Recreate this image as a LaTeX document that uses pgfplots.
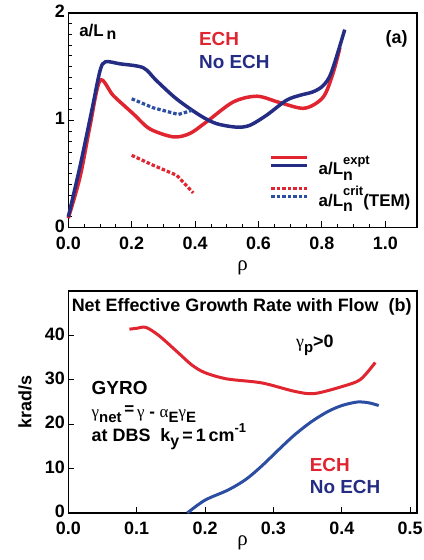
\documentclass[border=0pt]{standalone}
\usepackage{fontspec}
\setmainfont{Liberation Sans}
\newfontfamily\greekfont{Liberation Serif}
\usepackage{pgfplots}
\pgfplotsset{compat=1.18}

\definecolor{echred}{RGB}{224,36,48}
\definecolor{navy}{RGB}{36,44,132}
\definecolor{midblue}{RGB}{44,78,162}

\newcommand\fs[1]{\fontsize{#1}{#1}\selectfont\bfseries}

\tikzset{lbl/.style={inner sep=0pt, anchor=base west}}
\pgfplotsset{
  panel/.style={
    scale only axis,
    width=348.7bp,
    axis line style={line width=1.2bp},
    tick style={line width=0.9bp, black},
    tick align=inside,
    xtick pos=left, ytick pos=left,
    major tick length=6bp, minor tick length=4bp,
    ticklabel style={font=\fs{18}},
    xticklabel style={yshift=-5.5bp},
    yticklabel style={yshift=1.5bp},
    /pgf/number format/assume math mode=true,
    clip=false,
  },
}

\begin{document}
\begin{tikzpicture}
\path[use as bounding box] (-68.3bp,-332.5bp) rectangle (355.7bp,227.5bp);

% ---------------- (a) density gradient ----------------
\begin{axis}[panel,
  at={(0,0)}, anchor=south west,
  height=214.5bp,
  xmin=0, xmax=1.1, ymin=0, ymax=2,
  xtick={0,0.2,...,1.0}, minor x tick num=3,
  ytick={0,1,2}, minor y tick num=9,
  xticklabel style={/pgf/number format/.cd, fixed, fixed zerofill, precision=1},
  yticklabel style={/pgf/number format/.cd, fixed, precision=0},
  xlabel={\greekfont\fontsize{21}{21}\selectfont ρ},
  xlabel style={at={(axis description cs:0.5,-0.19)}, anchor=center},
  legend style={draw=none, fill=none, at={(axis cs:0.634,0.69)}, anchor=north west,
    font=\fs{17}, row sep=6bp, inner sep=0pt, column sep=8bp},
  legend cell align=left,
]
% experimental a/L_n
\addplot[echred, line width=3.5bp, smooth, tension=0.5, forget plot] coordinates {
  (0,0.087) (0.037,0.47) (0.068,0.94) (0.1,1.37) (0.142,1.23) (0.205,1.06)
  (0.257,0.92) (0.331,0.845) (0.383,0.876) (0.436,0.985) (0.52,1.17)
  (0.595,1.224) (0.667,1.165) (0.745,1.112) (0.804,1.215) (0.836,1.447) (0.857,1.68)
};
\addplot[navy, line width=3.5bp, smooth, tension=0.5, forget plot] coordinates {
  (0,0.1) (0.037,0.57) (0.074,1.09) (0.1,1.46) (0.117,1.545) (0.163,1.526)
  (0.236,1.49) (0.278,1.37) (0.341,1.2) (0.415,1.046) (0.467,0.969)
  (0.53,0.936) (0.572,0.952) (0.625,1.046) (0.688,1.186) (0.73,1.232)
  (0.772,1.265) (0.804,1.323) (0.83,1.447) (0.872,1.845)
};
% critical gradient (TEM)
\addplot[echred, line width=3.2bp, dash pattern=on 3.5bp off 2bp, forget plot] coordinates {
  (0.2,0.673) (0.268,0.58) (0.342,0.487) (0.394,0.323)
};
\addplot[midblue, line width=3.2bp, dash pattern=on 3.5bp off 2bp, forget plot] coordinates {
  (0.2,1.2) (0.268,1.116) (0.347,1.054) (0.389,1.091)
};
\addlegendimage{legend image code/.code={
  \draw[echred, line width=3.2bp] (0bp,8.5bp) -- (36bp,8.5bp);
  \draw[navy, line width=3.2bp] (0bp,0.5bp) -- (36bp,0.5bp);}}
\addlegendentry{a/L\makebox[0pt][l]{\raisebox{1.2ex}{\fs{13}expt}}\raisebox{-0.6ex}{\fs{16}n}}
\addlegendimage{legend image code/.code={
  \draw[echred, line width=3bp, dash pattern=on 3.5bp off 2bp] (0bp,8.5bp) -- (36bp,8.5bp);
  \draw[midblue, line width=3bp, dash pattern=on 3.5bp off 2bp] (0bp,0.5bp) -- (36bp,0.5bp);}}
\addlegendentry{a/L\makebox[0pt][l]{\raisebox{-0.6ex}{\fs{16}n}}\raisebox{1.2ex}{\fs{13}crit}(TEM)}

\node[lbl, font=\fs{17}] at (axis cs:0.034,1.78) {a/L\,\raisebox{-0.35ex}{\fs{16}n}};
\node[lbl, font=\fs{19}, text=echred] at (axis cs:0.412,1.695) {ECH};
\node[lbl, font=\fs{19}, text=navy] at (axis cs:0.412,1.48) {No ECH};
\node[lbl, anchor=base east, font=\fs{18}] at (axis cs:1.071,1.72) {(a)};
\end{axis}

% ---------------- (b) net growth rate ----------------
\begin{axis}[panel,
  at={(0,-63.5bp)}, anchor=north west,
  height=222bp,
  xmin=0, xmax=0.51, ymin=0, ymax=50,
  xtick={0,0.1,...,0.5},
  ytick={0,10,...,40},
  xticklabel style={/pgf/number format/.cd, fixed, fixed zerofill, precision=1},
  yticklabel style={/pgf/number format/.cd, fixed, precision=0},
  xlabel={\greekfont\fontsize{21}{21}\selectfont ρ},
  xlabel style={at={(axis description cs:0.5,-0.135)}, anchor=center},
  ylabel={krad/s},
  ylabel style={font=\fs{18}, at={(axis description cs:-0.124,0.5)}, anchor=center},
]
\addplot[echred, line width=3bp, smooth, tension=0.5] coordinates {
  (0.0894,41.4) (0.1,41.6) (0.1136,41.8) (0.133,39.9) (0.16,36.2) (0.181,33.3)
  (0.2,31.6) (0.232,30.2) (0.283,29.3) (0.331,27.4) (0.36,26.9) (0.403,28.6)
  (0.4275,30.1) (0.449,33.9)
};
\addplot[midblue, line width=3bp, smooth, tension=0.5] coordinates {
  (0.174,0) (0.2,2.9) (0.234,5.2) (0.26,7.6) (0.283,10.6) (0.31,14.6)
  (0.331,17.6) (0.355,20.5) (0.379,22.8) (0.4,24.2) (0.423,25.0) (0.44,24.8) (0.454,24.2)
};

\node[inner sep=0pt, anchor=base, font=\fs{18}] at (axis cs:0.2535,45.4) {Net Effective Growth Rate with Flow\ \ (b)};
\node[lbl, font=\fs{18}] at (axis cs:0.333,37.3)
  {{\greekfont\mdseries γ}\raisebox{-0.5ex}{\fs{15}p}>0};
\node[lbl, font=\fs{19}] at (axis cs:0.034,26.7) {GYRO};
\node[lbl, font=\fs{17}] at (axis cs:0.034,21.5)
  {{\greekfont\mdseries γ}\raisebox{-0.5ex}{\fs{15}net}\,\raisebox{0.3ex}{=}\,{\greekfont\mdseries γ} - {\greekfont\mdseries α}\raisebox{-0.6ex}{\fs{15}E}{\greekfont\mdseries γ}\raisebox{-0.6ex}{\fs{15}E}};
\node[lbl, font=\fs{18}] at (axis cs:0.034,16.1)
  {at DBS\ \ k\raisebox{-0.5ex}{\fs{16}y}\,=\,1\,cm\raisebox{1.0ex}{\fs{13}-1}};
\node[lbl, font=\fs{19}, text=echred] at (axis cs:0.353,9.3) {ECH};
\node[lbl, font=\fs{19}, text=navy] at (axis cs:0.353,4.5) {No ECH};
\end{axis}
\end{tikzpicture}
\end{document}
